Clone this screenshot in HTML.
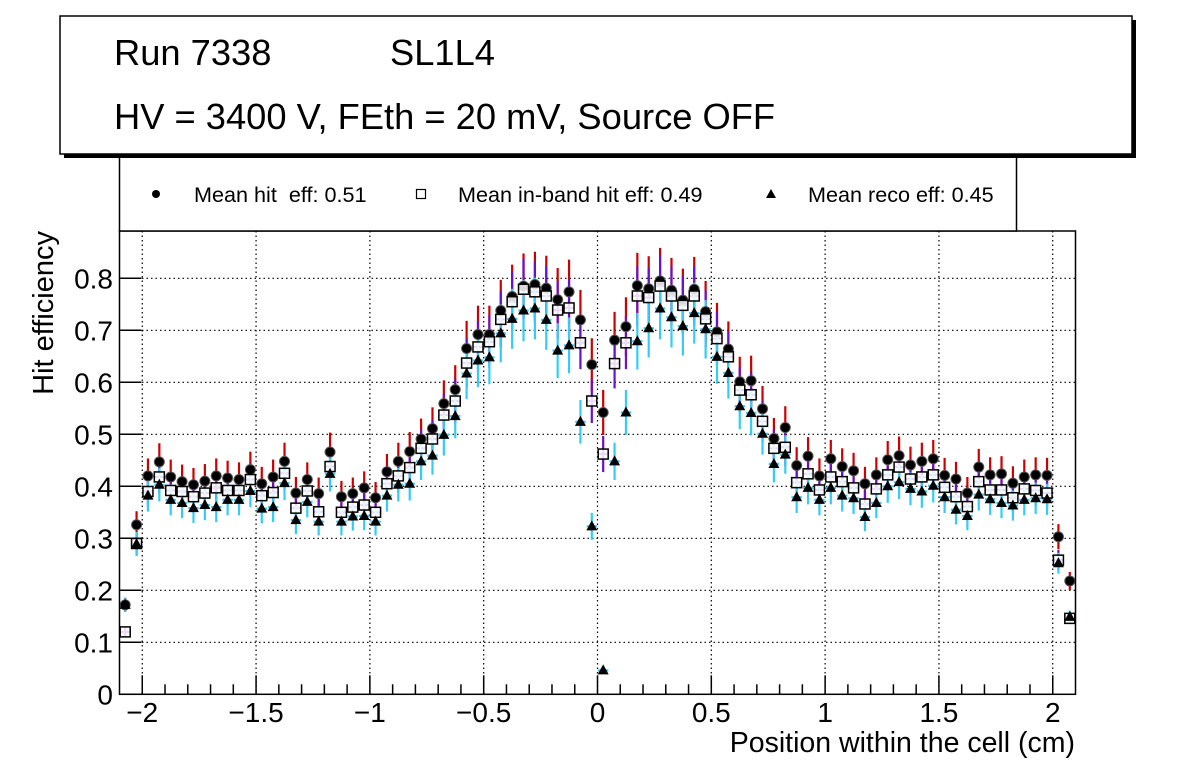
<!DOCTYPE html>
<html><head><meta charset="utf-8"><style>
html,body{margin:0;padding:0;background:#fff;}
svg{display:block;font-family:"Liberation Sans",Arial,sans-serif;}
</style></head><body>
<svg id="chart" width="1196" height="772" viewBox="0 0 1196 772" xmlns="http://www.w3.org/2000/svg">
<rect x="0" y="0" width="1196" height="772" fill="#fff"/>
<g id="grid"></g>
<g id="bars"></g>
<g id="marks"></g>
<rect x="119.5" y="231" width="956" height="463.3" fill="none" stroke="#000" stroke-width="1.5"/>
<g id="axes"></g>
<text x="1075" y="752" font-size="28.5" text-anchor="end">Position within the cell (cm)</text>
<text transform="translate(53,231) rotate(-90)" font-size="29" text-anchor="end">Hit efficiency</text>
<g>
<rect x="119.5" y="140" width="897" height="91" fill="#fff" stroke="#000" stroke-width="1.5"/>
<circle cx="156" cy="194" r="4" fill="#000"/>
<text x="194" y="202" font-size="21.6">Mean hit&#160; eff: 0.51</text>
<rect x="416.5" y="189.5" width="9" height="9" fill="#fff" stroke="#000" stroke-width="1.2"/>
<text x="458" y="202" font-size="21.6">Mean in-band hit eff: 0.49</text>
<polygon points="771,189 766,198 776,198" fill="#000"/>
<text x="808" y="202" font-size="21.6">Mean reco eff: 0.45</text>
</g>
<g>
<rect x="64" y="20" width="1072" height="138" fill="#000"/>
<rect x="60" y="16" width="1072" height="138" fill="#fff" stroke="#000" stroke-width="1.5"/>
<text x="114" y="65" font-size="36.3">Run 7338</text>
<text x="390" y="65" font-size="36.3">SL1L4</text>
<text x="114" y="129" font-size="36.3">HV = 3400 V, FEth = 20 mV, Source OFF</text>
</g>
</svg>
<script>
const hitEff = [0.172,0.326,0.42,0.447,0.418,0.409,0.403,0.41,0.42,0.416,0.413,0.432,0.405,0.418,0.448,0.387,0.413,0.386,0.466,0.38,0.386,0.397,0.378,0.428,0.448,0.467,
0.491,0.511,0.559,0.586,0.665,0.692,0.692,0.738,0.765,0.785,0.788,0.781,0.759,0.774,0.72,0.634,0.542,0.681,0.707,0.786,0.78,0.795,0.777,0.758,0.779,
0.736,0.697,0.664,0.601,0.603,0.549,0.492,0.513,0.44,0.458,0.42,0.453,0.438,0.43,0.405,0.422,0.451,0.459,0.441,0.448,0.453,0.421,0.414,0.387,0.437,0.422,0.424,0.406,0.418,0.422,0.421,0.303,0.218];
const inbandEff = [0.12,0.29,0.39,0.418,0.392,0.39,0.38,0.387,0.397,0.392,0.392,0.413,0.382,0.388,0.425,0.358,0.391,0.351,0.438,0.35,0.36,0.364,0.35,0.405,0.42,0.436,
0.473,0.491,0.537,0.564,0.637,0.668,0.678,0.721,0.755,0.779,0.774,0.766,0.739,0.743,0.676,0.564,0.462,0.636,0.676,0.766,0.763,0.785,0.766,0.748,0.766,
0.722,0.684,0.649,0.585,0.576,0.525,0.473,0.475,0.407,0.424,0.393,0.418,0.409,0.397,0.366,0.395,0.422,0.437,0.414,0.418,0.422,0.398,0.38,0.361,0.409,0.393,0.393,0.378,0.395,0.392,0.387,0.258,0.146];
const recoEff = [0.172,0.289,0.382,0.403,0.374,0.368,0.358,0.364,0.36,0.374,0.374,0.391,0.357,0.36,0.406,0.335,0.37,0.332,0.424,0.332,0.342,0.343,0.332,0.382,0.403,0.405,
0.448,0.459,0.499,0.535,0.617,0.642,0.648,0.694,0.722,0.738,0.742,0.72,0.661,0.671,0.524,0.323,0.046,0.448,0.542,0.679,0.704,0.742,0.725,0.708,0.733,
0.702,0.649,0.618,0.554,0.541,0.501,0.443,0.461,0.379,0.397,0.374,0.397,0.382,0.377,0.341,0.368,0.4,0.408,0.395,0.39,0.401,0.379,0.355,0.343,0.384,0.375,0.368,0.363,0.374,0.377,0.375,0.252,0.149];
const xTickLabels = ["\u22122","\u22121.5","\u22121","\u22120.5","0","0.5","1","1.5","2"];
const xTickValues = [-2,-1.5,-1,-0.5,0,0.5,1,1.5,2];
const yTickLabels = ["0","0.1","0.2","0.3","0.4","0.5","0.6","0.7","0.8"];
const yTickValues = [0,0.1,0.2,0.3,0.4,0.5,0.6,0.7,0.8];
const binLow = -2.1, binWidth = 0.05;
const relErrHit = 0.08, relErrInband = 0.075, relErrReco = 0.08;

const X0=119.5, X1=1075.5, XMIN=-2.1, XMAX=2.1;
const Y0=694.3, YSCALE=520;
const xs = v => X0 + (v - XMIN) * (X1 - X0) / (XMAX - XMIN);
const ys = v => Y0 - v * YSCALE;
const NS="http://www.w3.org/2000/svg";
function mk(tag, attrs, parent){ const e=document.createElementNS(NS,tag); for(const k in attrs) e.setAttribute(k,attrs[k]); parent.appendChild(e); return e; }
const grid=document.getElementById('grid'), axes=document.getElementById('axes'), bars=document.getElementById('bars'), marks=document.getElementById('marks');

xTickValues.forEach((v,i)=>{
  const x=xs(v);
  const g=mk('line',{x1:x,x2:x,y1:231,y2:Y0,stroke:'#000','stroke-width':1.2,'stroke-dasharray':'1.5,3'},grid);
  
  
  const t=mk('line',{x1:x,x2:x,y1:Y0,y2:Y0-19,stroke:'#000','stroke-width':1.5},axes);
  
  
  const l=mk('text',{x:x,y:722,'font-size':28,'text-anchor':'middle'},axes);
  l.textContent=xTickLabels[i];
  
  
});
for(let k=-20;k<=20;k++){
  if(k%5===0) continue;
  const x=xs(k/10);
  const t=mk('line',{x1:x,x2:x,y1:Y0,y2:Y0-10,stroke:'#000','stroke-width':1.5},axes);
  
  
}
yTickValues.forEach((v,i)=>{
  const y=ys(v);
  if(v>0){
    const g=mk('line',{x1:X0,x2:X1,y1:y,y2:y,stroke:'#000','stroke-width':1.2,'stroke-dasharray':'1.5,3'},grid);
    
    
  }
  const t=mk('line',{x1:X0,x2:X0+22,y1:y,y2:y,stroke:'#000','stroke-width':1.5},axes);
  
  
  const l=mk('text',{x:113,y:y+10,'font-size':28,'text-anchor':'end'},axes);
  l.textContent=yTickLabels[i];
  
  
});

function errBars(vals, rel, color, name){
  vals.forEach((v,i)=>{
    const c=binLow+binWidth*(i+0.5), x=xs(c), e=v*rel;
    const a=mk('line',{x1:x,x2:x,y1:ys(v+e),y2:ys(v-e),stroke:color,'stroke-width':2.2},bars);
    
    
    const b=mk('line',{x1:xs(c-binWidth/2)+0.5,x2:xs(c+binWidth/2)-0.5,y1:ys(v),y2:ys(v),stroke:color,'stroke-width':2.2},bars);
    
    
  });
}
errBars(hitEff, relErrHit, '#cc0000', 'hit');
errBars(inbandEff, relErrInband, '#6a0fcf', 'inband');
errBars(recoEff, relErrReco, '#33ccf5', 'reco');

hitEff.forEach((v,i)=>{
  const x=xs(binLow+binWidth*(i+0.5));
  const m=mk('circle',{cx:x,cy:ys(v),r:5,fill:'#000',stroke:'#555','stroke-width':1},marks);
  
  
});
inbandEff.forEach((v,i)=>{
  const x=xs(binLow+binWidth*(i+0.5)), y=ys(v);
  const m=mk('rect',{x:x-5,y:y-5,width:10,height:10,fill:'#fff','fill-opacity':0.85,stroke:'#000','stroke-width':1.5},marks);
  
  
});
recoEff.forEach((v,i)=>{
  const x=xs(binLow+binWidth*(i+0.5)), y=ys(v);
  const m=mk('polygon',{points:`${x},${y-6} ${x-5.5},${y+4} ${x+5.5},${y+4}`,fill:'#000'},marks);
  
  
});
</script>
</body></html>
